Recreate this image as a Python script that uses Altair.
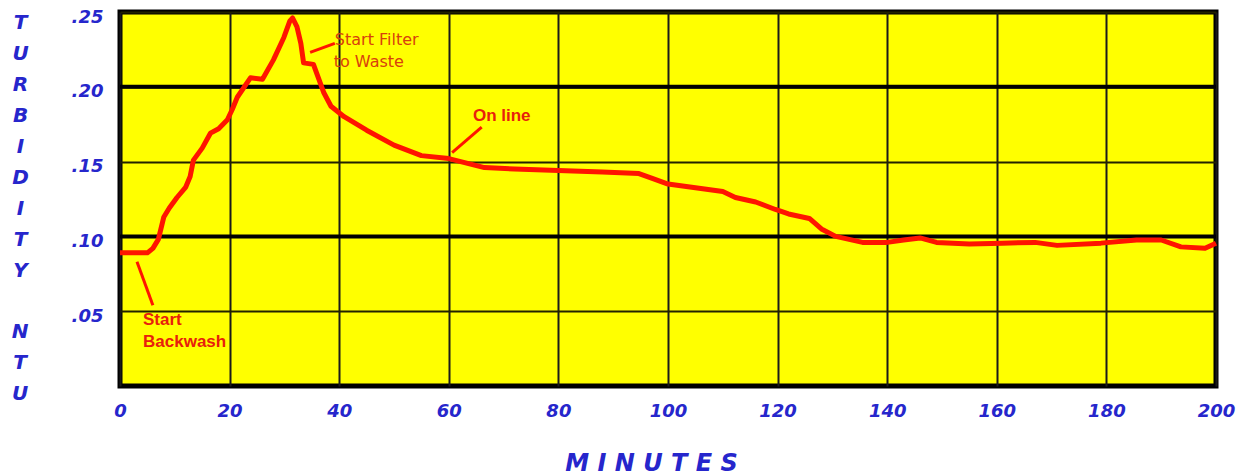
import altair as alt
import pandas as pd

# ---- data ----
minutes = [0, 3, 5, 6, 7, 8, 9, 10.4, 12, 12.8, 13.4, 15, 16.5, 18, 19.6, 20.5, 21.4,
           23.8, 26, 28, 29.9, 31, 31.5, 32.3, 33, 33.5, 35.3, 36, 37.2, 38.5, 40.9,
           45, 50, 55, 60, 66.5, 72, 80, 88, 94.7, 97, 100, 106, 110, 112.3, 116,
           119.6, 122, 125.8, 128, 130.6, 135.5, 140, 143, 146, 149, 155, 161, 167,
           171, 179, 185.5, 190, 193.6, 198, 200]
ntu = [0.089, 0.089, 0.089, 0.092, 0.098, 0.113, 0.119, 0.126, 0.133, 0.140, 0.151,
       0.159, 0.169, 0.172, 0.178, 0.185, 0.193, 0.206, 0.205, 0.218, 0.233, 0.244,
       0.246, 0.240, 0.229, 0.216, 0.215, 0.208, 0.196, 0.187, 0.180, 0.171, 0.161,
       0.154, 0.152, 0.146, 0.145, 0.144, 0.143, 0.142, 0.139, 0.135, 0.132, 0.130,
       0.126, 0.123, 0.118, 0.115, 0.112, 0.105, 0.100, 0.096, 0.096, 0.0976, 0.099,
       0.096, 0.095, 0.0955, 0.096, 0.094, 0.0955, 0.0976, 0.0976, 0.093, 0.092, 0.0955]

x_ticks = [0, 20, 40, 60, 80, 100, 120, 140, 160, 180, 200]
y_ticks = [0.05, 0.10, 0.15, 0.20, 0.25]
major_y = [0.10, 0.20]

filter_text = ["Start Filter", "to Waste"]
filter_x = [39.2, 39.0]
filter_y = [0.231, 0.2166]

bold_text = ["On line", "Start", "Backwash"]
bold_x = [64.4, 4.2, 4.2]
bold_y = [0.1805, 0.0441, 0.0294]

ptr_x = [34.7, 60.6, 3.1]
ptr_y = [0.223, 0.156, 0.083]
ptr_x2 = [39.2, 66.0, 6.0]
ptr_y2 = [0.229, 0.173, 0.054]

y_title = ["T", "U", "R", "B", "I", "D", "I", "T", "Y"]
y_unit = "N\nT\nU"
x_title = "M I N U T E S"

BLUE = "#2626cc"
RED = "#ff1400"
ANN = "#d8400c"

series = pd.DataFrame({"minutes": minutes, "ntu": ntu})
majors = pd.DataFrame({"ntu": major_y})
ftext = pd.DataFrame({"minutes": filter_x, "ntu": filter_y, "label": filter_text})
btext = pd.DataFrame({"minutes": bold_x, "ntu": bold_y, "label": bold_text})
ptrs = pd.DataFrame({"minutes": ptr_x, "ntu": ptr_y, "m2": ptr_x2, "n2": ptr_y2})

x_axis = alt.Axis(
    values=x_ticks, grid=True, gridColor="#1a1a1a", gridWidth=2, gridOpacity=1,
    ticks=False, domain=False, labelFont="DejaVu Sans", labelFontStyle="italic",
    labelFontWeight="bold", labelFontSize=18, labelColor=BLUE, labelPadding=16,
    labelFlush=False, labelOverlap=False,
    title=x_title, titleFont="DejaVu Sans", titleFontStyle="italic",
    titleFontWeight="bold", titleFontSize=24, titleColor=BLUE,
    titleX=531, titleY=84, titleAlign="center", titleBaseline="alphabetic",
)
y_axis = alt.Axis(
    values=y_ticks, grid=True, gridColor="#222200", gridWidth=2, gridOpacity=1,
    ticks=False, domain=False, labelFont="DejaVu Sans", labelFontStyle="italic",
    labelFontWeight="bold", labelFontSize=18, labelColor=BLUE, labelPadding=17,
    labelOffset=5, labelOverlap=False, labelFlush=False,
    labelExpr="substring(format(datum.value, '.2f'), 1)",
    title=y_title, titleFont="DejaVu Sans", titleFontStyle="italic",
    titleFontWeight="bold", titleFontSize=20, titleColor=BLUE, titleAngle=0,
    titleX=-100, titleY=0, titleAlign="center", titleBaseline="top",
    titleLineHeight=31,
)

xs = alt.Scale(domain=[0, 200], nice=False)
ys = alt.Scale(domain=[0, 0.25], nice=False)


def X(field="minutes"):
    return alt.X(f"{field}:Q", scale=xs, axis=x_axis)


def Y(field="ntu"):
    return alt.Y(f"{field}:Q", scale=ys, axis=y_axis)


major_rules = alt.Chart(majors).mark_rule(color="black", strokeWidth=4).encode(y=Y())

line = alt.Chart(series).mark_line(color=RED, strokeWidth=5, strokeJoin="round").encode(
    x=X(), y=Y()
)

pointers = alt.Chart(ptrs).mark_rule(color=RED, strokeWidth=3).encode(
    x=X(), y=Y(), x2="m2:Q", y2="n2:Q"
)

ftext_layer = alt.Chart(ftext).mark_text(
    align="left", baseline="middle", font="DejaVu Sans", fontSize=16, color=ANN
).encode(x=X(), y=Y(), text="label:N")

btext_layer = alt.Chart(btext).mark_text(
    align="left", baseline="middle", font="Liberation Sans", fontSize=17,
    fontWeight="bold", color="#e8200c"
).encode(x=X(), y=Y(), text="label:N")

unit_layer = alt.Chart(series).mark_text(
    align="center", baseline="top", font="DejaVu Sans", fontSize=20,
    fontStyle="italic", fontWeight="bold", color=BLUE, lineBreak="\n",
    lineHeight=31,
).encode(x=alt.value(-100), y=alt.value(310), text=alt.value(y_unit)).transform_filter(
    "datum.minutes == 0"
)

chart = alt.layer(major_rules, line, pointers, ftext_layer, btext_layer, unit_layer).properties(
    width=1096, height=374,
    padding={"left": 112, "top": 4, "right": 30, "bottom": 90},
    autosize=alt.AutoSizeParams(type="none"),
    background="white",
).configure_view(
    fill="#ffff00", stroke="black", strokeWidth=5
)

chart.save("out.html", embed_options={"renderer": "svg", "actions": False})
